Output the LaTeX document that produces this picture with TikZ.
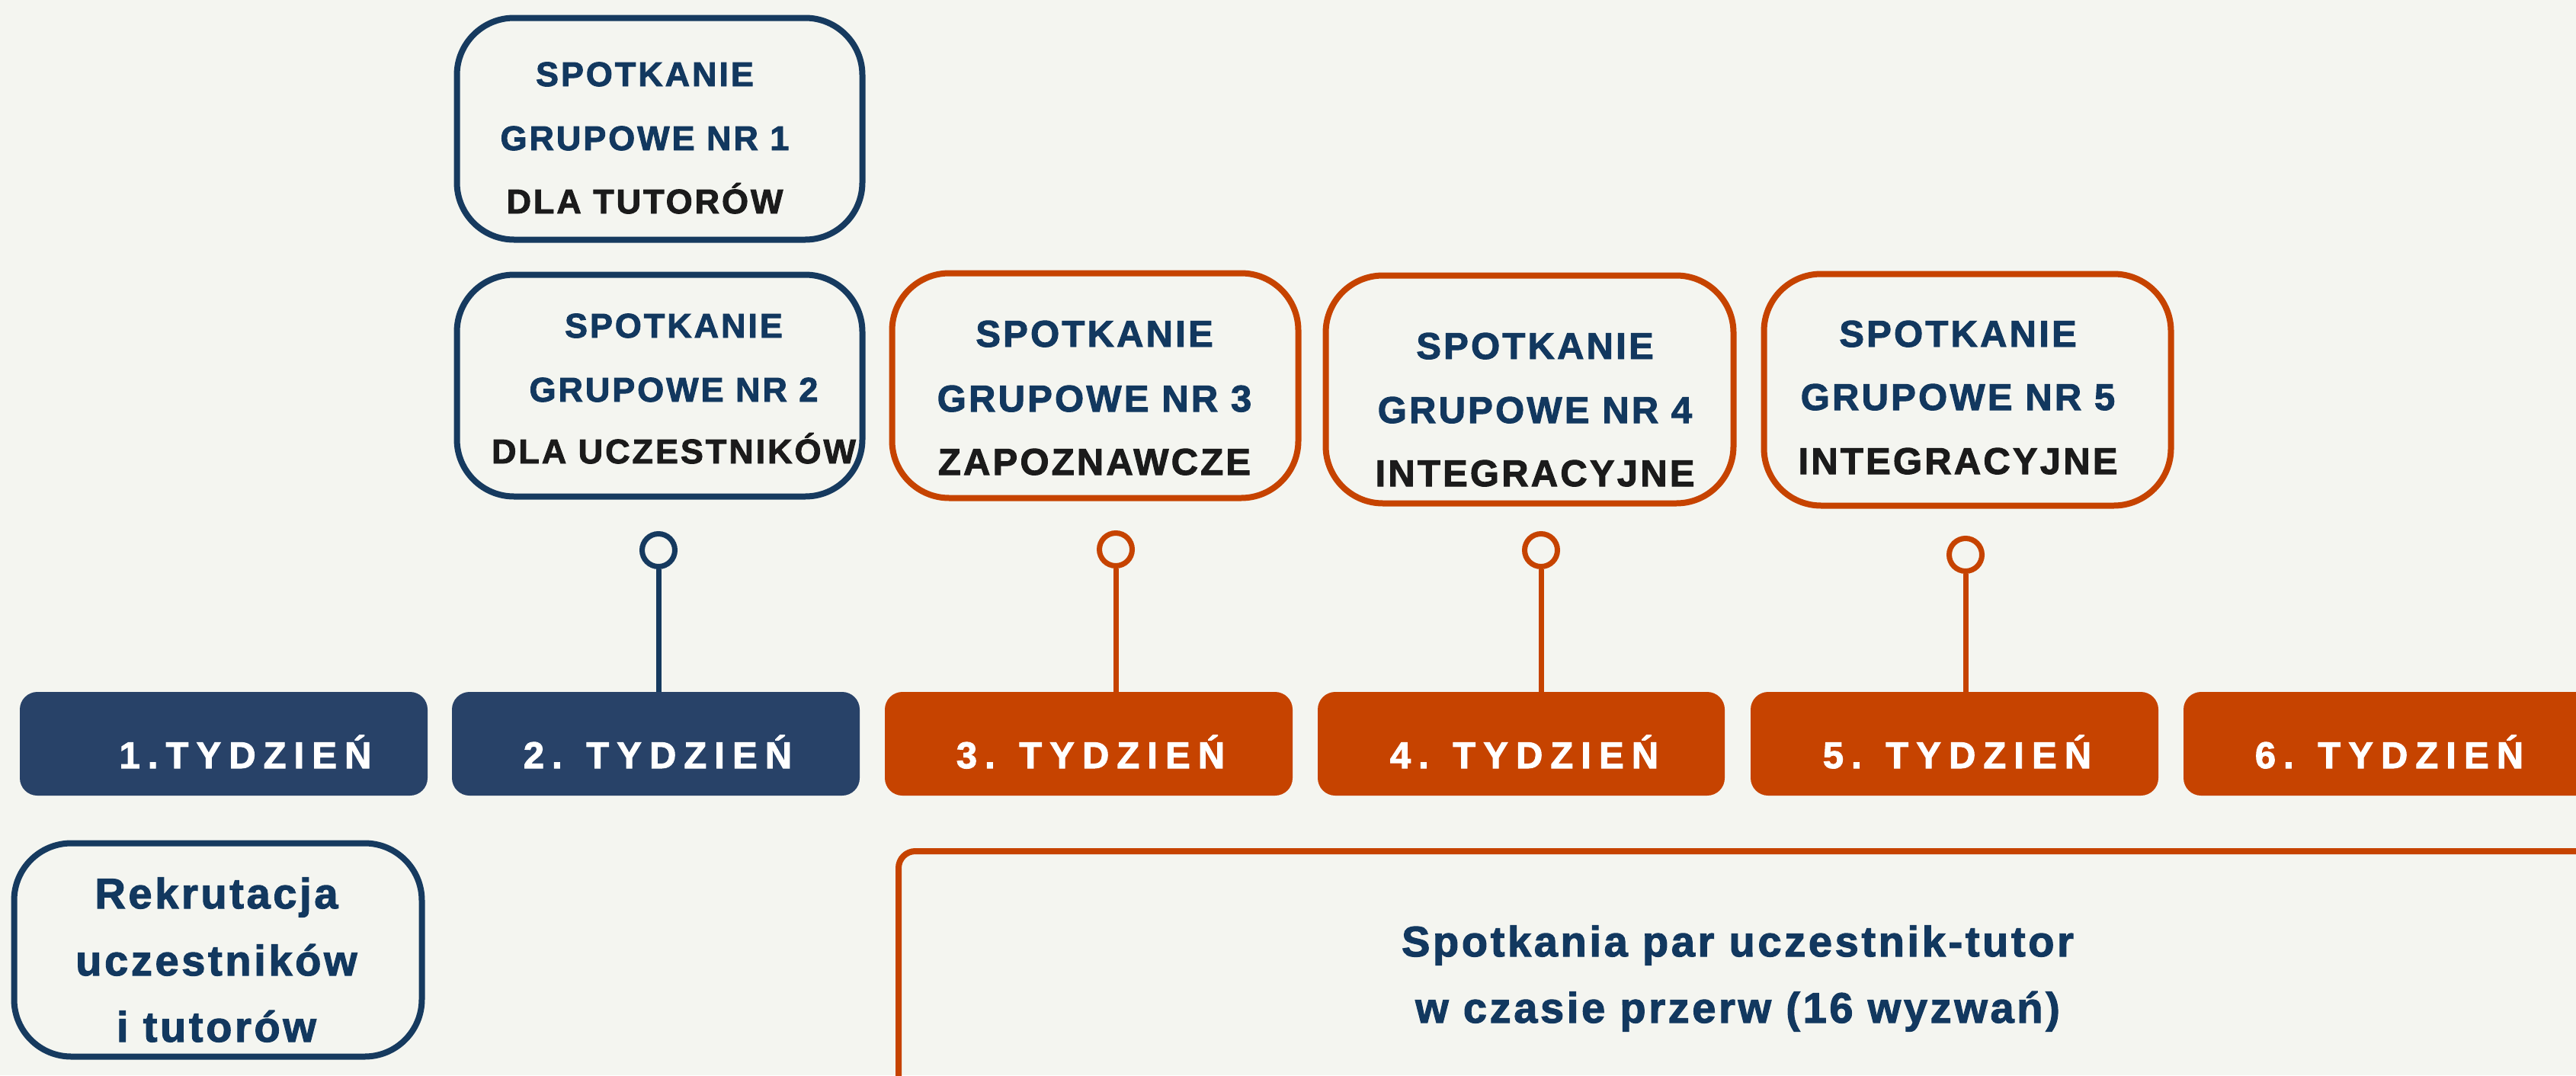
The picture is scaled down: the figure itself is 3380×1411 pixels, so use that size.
\documentclass[tikz,border=0pt]{standalone}
\usepackage{fontspec}
\setmainfont{Liberation Sans}
\newfontfamily\boxfont[LetterSpace=6.5,FakeBold=2]{Liberation Sans}
\newfontfamily\weekfont[LetterSpace=20.5,FakeBold=2]{Liberation Sans}
\definecolor{bg}{HTML}{F4F5F0}
\definecolor{navytxt}{HTML}{12385F}
\definecolor{navyline}{HTML}{163A5F}
\definecolor{navybar}{HTML}{284268}
\definecolor{orng}{HTML}{C64300}
\definecolor{blk}{HTML}{1B1B1B}
\tikzset{
  gbox/.style={draw, line width=8, rounded corners=75, fill=bg, inner sep=0},
  navybox/.style={gbox, draw=navyline},
  orangebox/.style={gbox, draw=orng},
  weekbar/.style={inner sep=0, rounded corners=23, minimum height=136},
  navyweek/.style={weekbar, fill=navybar},
  orangeweek/.style={weekbar, fill=orng},
  weektxt/.style={anchor=base, inner sep=0, text=white, font=\weekfont\bfseries\fontsize{49}{59}\selectfont},
  smalltxt/.style={anchor=base, inner sep=0, font=\boxfont\bfseries\fontsize{45}{54}\selectfont},
  midtxt/.style={anchor=base, inner sep=0, font=\boxfont\bfseries\fontsize{49}{59}\selectfont},
  bigtxt/.style={anchor=base, inner sep=0, text=navytxt, font=\boxfont\bfseries\fontsize{56}{67}\selectfont},
  pin/.style={circle, draw, line width=7, fill=bg, minimum size=43, inner sep=0},
  stem/.style={line width=7},
}
\begin{document}
\begin{tikzpicture}[x=1pt,y=-1pt]
\useasboundingbox (0,0) rectangle (3380,1411);
\fill[bg] (0,0) rectangle (3380,1411);
\clip (0,0) rectangle (3380,1411);

% top boxes
\node[navybox, minimum width=532, minimum height=291] (b1) at (865.5,169) {};
\node[smalltxt, text=navytxt] (b1a) at (846,113) {SPOTKANIE};
\node[smalltxt, text=navytxt] (b1b) at (846,197) {GRUPOWE NR 1};
\node[smalltxt, text=blk] (b1c) at (846,280) {DLA TUTORÓW};

\node[navybox, minimum width=532, minimum height=291] (b2) at (865.5,506) {};
\node[smalltxt, text=navytxt] (b2a) at (884,443) {SPOTKANIE};
\node[smalltxt, text=navytxt] (b2b) at (884,527) {GRUPOWE NR 2};
\node[smalltxt, text=blk] (b2c) at (884,608) {DLA UCZESTNIKÓW};

\node[orangebox, minimum width=533, minimum height=295] (b3) at (1437,506) {};
\node[midtxt, text=navytxt] (b3a) at (1436,455) {SPOTKANIE};
\node[midtxt, text=navytxt] (b3b) at (1436,540) {GRUPOWE NR 3};
\node[midtxt, text=blk] (b3c) at (1436,623) {ZAPOZNAWCZE};

\node[orangebox, minimum width=535, minimum height=299] (b4) at (2007,511) {};
\node[midtxt, text=navytxt] (b4a) at (2014,471) {SPOTKANIE};
\node[midtxt, text=navytxt] (b4b) at (2014,555) {GRUPOWE NR 4};
\node[midtxt, text=blk] (b4c) at (2014,638) {INTEGRACYJNE};

\node[orangebox, minimum width=534, minimum height=304] (b5) at (2581.5,511.5) {};
\node[midtxt, text=navytxt] (b5a) at (2569,455) {SPOTKANIE};
\node[midtxt, text=navytxt] (b5b) at (2569,538) {GRUPOWE NR 5};
\node[midtxt, text=blk] (b5c) at (2569,622) {INTEGRACYJNE};

% week bars
\node[navyweek, minimum width=535] (w1) at (293.5,976) {};
\node[navyweek, minimum width=535] (w2) at (860.5,976) {};
\node[orangeweek, minimum width=535] (w3) at (1428.5,976) {};
\node[orangeweek, minimum width=534] (w4) at (1996,976) {};
\node[orangeweek, minimum width=535] (w5) at (2564.5,976) {};
\node[orangeweek, minimum width=570] (w6) at (3150,976) {};
\node[weektxt] (w1t) at (322,1008) {1.TYDZIEŃ};
\node[weektxt] (w2t) at (863,1008) {2. TYDZIEŃ};
\node[weektxt] (w3t) at (1431,1008) {3. TYDZIEŃ};
\node[weektxt] (w4t) at (2000,1008) {4. TYDZIEŃ};
\node[weektxt] (w5t) at (2568,1008) {5. TYDZIEŃ};
\node[weektxt] (w6t) at (3135,1008) {6. TYDZIEŃ};

% pins
\node[pin, draw=navyline] (c2) at (864,722) {};
\node[pin, draw=orng] (c3) at (1464,721) {};
\node[pin, draw=orng] (c4) at (2022,722) {};
\node[pin, draw=orng] (c5) at (2579,728) {};
\draw[stem, navyline] (c2.south) -- (c2.south |- w2.north);
\draw[stem, orng] (c3.south) -- (c3.south |- w3.north);
\draw[stem, orng] (c4.south) -- (c4.south |- w4.north);
\draw[stem, orng] (c5.south) -- (c5.south |- w5.north);

% bottom boxes
\node[navybox, minimum width=535, minimum height=280] (rek) at (286,1246.5) {};
\node[bigtxt] (reka) at (284,1192) {Rekrutacja};
\node[bigtxt] (rekb) at (284,1280) {uczestników};
\node[bigtxt] (rekc) at (284,1367) {i tutorów};

\node[draw=orng, line width=8, rounded corners=22, inner sep=0, minimum width=2242, minimum height=383] (sp) at (2300,1308.5) {};
\node[bigtxt] (spa) at (2280,1255) {Spotkania par uczestnik-tutor};
\node[bigtxt] (spb) at (2280,1342) {w czasie przerw (16 wyzwań)};
\end{tikzpicture}
\end{document}
